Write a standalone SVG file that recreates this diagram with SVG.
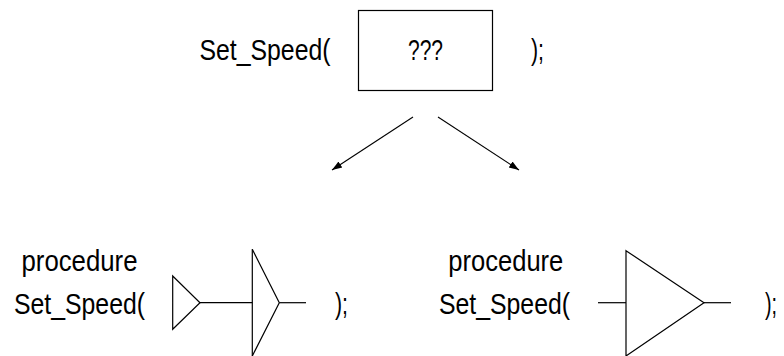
<svg xmlns="http://www.w3.org/2000/svg" width="784" height="356" viewBox="0 0 784 356">
<style>
text{font-family:"Liberation Sans","DejaVu Sans",sans-serif;font-size:29px;fill:#000}
.s{fill:none;stroke:#000;stroke-width:1.2}
.c{stroke:#000;stroke-width:1.1;fill:none}
</style>
<defs>
<marker id="ah" viewBox="0 0 10 10" refX="10" refY="5" markerWidth="10" markerHeight="10" markerUnits="userSpaceOnUse" orient="auto">
<path d="M0,1.5 L10,5 L0,8.5 z" fill="#000"/>
</marker>
</defs>
<g id="call">
<text x="199.5" y="60" textLength="131" lengthAdjust="spacingAndGlyphs">Set_Speed(</text>
<rect x="358.5" y="10.5" width="134" height="80" class="s" stroke="#333"/>
<text x="408" y="60" textLength="35" lengthAdjust="spacingAndGlyphs">???</text>
<text x="531" y="60" textLength="13" lengthAdjust="spacingAndGlyphs">);</text>
</g>
<g id="connectors">
<line x1="413" y1="117" x2="332" y2="170" class="c" marker-end="url(#ah)"/>
<line x1="438" y1="117" x2="519" y2="170" class="c" marker-end="url(#ah)"/>
</g>
<g id="procA">
<text x="21.5" y="270.5" textLength="116" lengthAdjust="spacingAndGlyphs">procedure</text>
<text x="14" y="314" textLength="131" lengthAdjust="spacingAndGlyphs">Set_Speed(</text>
<path d="M172.7,276 L200,302.7 L172.7,329.3 Z" class="s"/>
<line x1="200" y1="302.7" x2="252.3" y2="302.7" class="s"/>
<path d="M252.3,249.3 L279.3,302.7 L252.3,356" class="s"/>
<line x1="252.3" y1="249.3" x2="252.3" y2="356" class="s"/>
<line x1="279.3" y1="302.7" x2="306" y2="302.7" class="s"/>
<text x="335" y="314" textLength="13" lengthAdjust="spacingAndGlyphs">);</text>
</g>
<g id="procB">
<text x="448.3" y="270.5" textLength="115" lengthAdjust="spacingAndGlyphs">procedure</text>
<text x="439" y="314" textLength="131" lengthAdjust="spacingAndGlyphs">Set_Speed(</text>
<line x1="598" y1="302.7" x2="626" y2="302.7" class="s"/>
<path d="M626,250.7 L704,302.7 L626,356 Z" class="s"/>
<line x1="704" y1="302.7" x2="731" y2="302.7" class="s"/>
<text x="765" y="314" textLength="12" lengthAdjust="spacingAndGlyphs">);</text>
</g>
</svg>
